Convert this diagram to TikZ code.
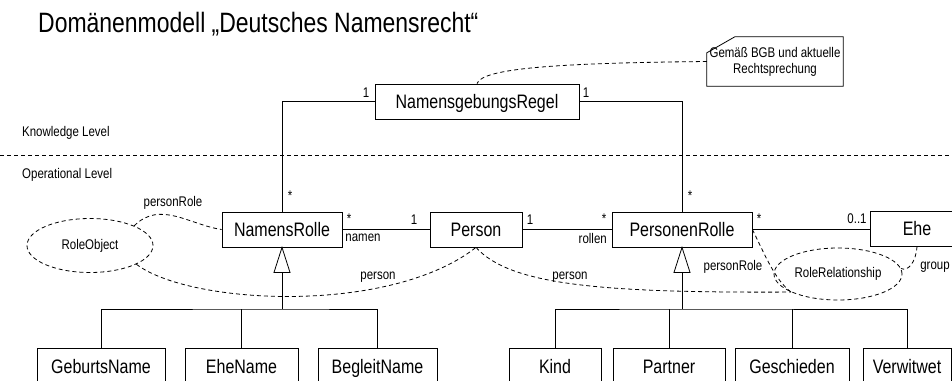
\documentclass[tikz,border=0pt]{standalone}
\usepackage{fontspec}
\setmainfont{Liberation Sans}[FakeStretch=0.82]
\usetikzlibrary{shapes.geometric}
\begin{document}
\begin{tikzpicture}[x=1pt,y=-1pt,
  cls/.style={draw, line width=0.8pt, rectangle, inner sep=0pt, minimum height=35pt, text height=17pt, text depth=4pt, font=\fontsize{19.5}{22}\selectfont},
  low/.style={minimum height=38pt},
  lbl/.style={inner sep=0pt, font=\fontsize{14}{16}\selectfont},
  conn/.style={line width=0.8pt},
  dep/.style={line width=0.8pt, dash pattern=on 4pt off 3pt},
  obj/.style={draw, ellipse, line width=0.8pt, dash pattern=on 4pt off 3pt, inner sep=0pt, font=\fontsize{14}{16}\selectfont},
  gen/.style={draw, line width=0.8pt, fill=white},
  notetext/.style={inner sep=0pt, align=center, font=\fontsize{14}{16}\selectfont, minimum width=136pt, minimum height=49pt}
]
\useasboundingbox (0,0) rectangle (952,380);
\node[anchor=west, inner sep=0pt, font=\fontsize{28}{30}\selectfont] (title) at (38,24) {Domänenmodell „Deutsches Namensrecht“};

% level separator
\node[lbl, anchor=west] (kl) at (22,133) {Knowledge Level};
\node[lbl, anchor=west] (ol) at (22,175) {Operational Level};
\draw[dep] (0,155) -- (952,155);

% classes
\node[cls, minimum width=204pt] (ngr) at (477,101.5) {NamensgebungsRegel};
\node[cls, minimum width=120pt] (nr) at (282,229.5) {NamensRolle};
\node[cls, minimum width=92pt] (p) at (476,229.5) {Person};
\node[cls, minimum width=140pt] (pr) at (682,229.5) {PersonenRolle};
\node[cls, minimum width=94pt] (ehe) at (917,228.5) {Ehe};

\node[cls, low, minimum width=128pt] (gn) at (101,367) {GeburtsName};
\node[cls, low, minimum width=113pt] (en) at (241.5,367) {EheName};
\node[cls, low, minimum width=119pt] (bn) at (377.5,367) {BegleitName};
\node[cls, low, minimum width=92pt] (kind) at (555,367) {Kind};
\node[cls, low, minimum width=112pt] (partner) at (669,367) {Partner};
\node[cls, low, minimum width=114pt] (gesch) at (792,367) {Geschieden};
\node[cls, low, minimum width=88pt] (verw) at (907,367) {Verwitwet};

% note
\node[notetext] (note) at (775,61.5) {Gemäß BGB und aktuelle\\Rechtsprechung};
\draw[conn] (note.south west) -- ([yshift=-16pt]note.north west) -- ([xshift=28pt]note.north west) -- (note.north east) -- (note.south east) -- cycle;

% objects (patterns)
\node[obj, minimum width=126pt, minimum height=54pt] (ro) at (90,245.5) {RoleObject};
\node[obj, minimum width=128pt, minimum height=52pt] (rr) at (838,274) {RoleRelationship};

% associations
\draw[conn] (ngr.west) -| (nr.north);
\draw[conn] (ngr.east) -| (pr.north);
\draw[conn] (nr.east) -- (p.west);
\draw[conn] (p.east) -- (pr.west);
\draw[conn] (pr.east) -- (pr.east -| ehe.west);

% generalizations
\coordinate (nrbar) at (282,309);
\coordinate (prbar) at (682,309);
\draw[gen] (nr.south) -- ++(-8,25) -- ++(16,0) -- cycle;
\draw[conn] ([yshift=-25pt]nr.south) -- (nrbar);
\draw[conn] (gn.north) |- (nrbar) -| (bn.north);
\draw[conn] (en.north) -- (en.north |- nrbar);
\draw[gen] (pr.south) -- ++(-8,25) -- ++(16,0) -- cycle;
\draw[conn] ([yshift=-25pt]pr.south) -- (prbar);
\draw[conn] (kind.north) |- (prbar) -| (verw.north);
\draw[conn] (partner.north) -- (partner.north |- prbar);
\draw[conn] (gesch.north) -- (gesch.north |- prbar);

% dashed dependencies
\draw[dep] (note.west) .. controls (560,63) and (482,68) .. (ngr.north);
\draw[dep] (ro.24) .. controls (160,200) and (190,225) .. (nr.west);
\draw[dep] (ro.-22) .. controls (190,305) and (390,315) .. (p.south);
\draw[dep] (p.south) .. controls (510,285) and (600,293) .. (rr.201);
\draw[dep] (pr.east) .. controls (765,255) and (775,280) .. (rr.201);
\draw[dep] (ehe.south) .. controls (916,262) and (908,272) .. (rr.5);

% labels
\node[lbl] (m1) at (366,93) {1};
\node[lbl] (m2) at (586,93) {1};
\node[lbl] (m3) at (290,196) {*};
\node[lbl] (m4) at (690,196) {*};
\node[lbl] (m5) at (349,219) {*};
\node[lbl] (m6) at (363,238) {namen};
\node[lbl] (m7) at (414,220) {1};
\node[lbl] (m8) at (530,220) {1};
\node[lbl] (m9) at (604,219) {*};
\node[lbl, anchor=east] (m10) at (607,238) {rollen};
\node[lbl] (m11) at (759,219) {*};
\node[lbl] (m12) at (857,219) {0..1};
\node[lbl] (r1) at (173,203) {personRole};
\node[lbl] (r2) at (378,277) {person};
\node[lbl] (r3) at (570,277) {person};
\node[lbl] (r4) at (733,267) {personRole};
\node[lbl] (r5) at (935,267) {group};
\end{tikzpicture}
\end{document}
